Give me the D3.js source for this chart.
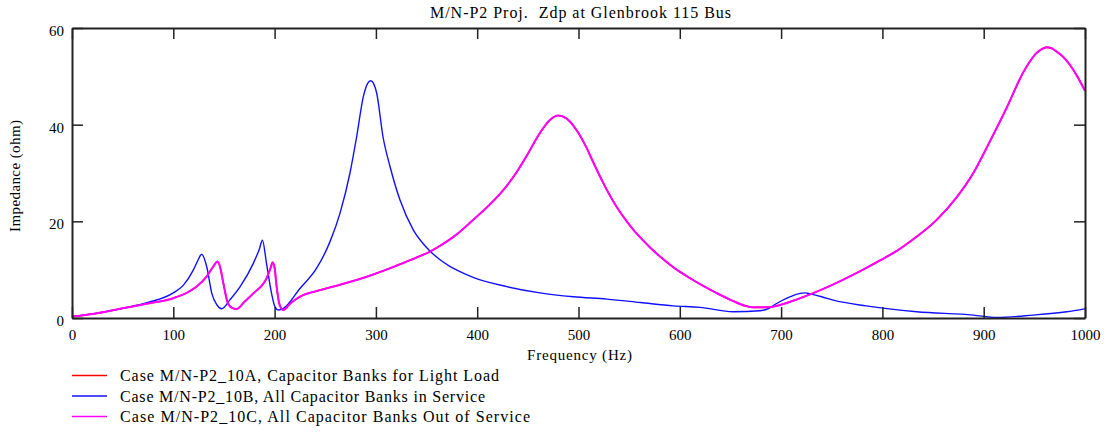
<!DOCTYPE html>
<html>
<head>
<meta charset="utf-8">
<script src="https://cdn.jsdelivr.net/npm/d3@7"></script>
<style>
  html, body { margin: 0; padding: 0; background: #fff; }
  svg { display: block; font-family: "Liberation Serif", "Times New Roman", serif; }
</style>
</head>
<body>
<svg id="chart" width="1109" height="434"></svg>
<script>
const titleText = "M/N-P2 Proj.  Zdp at Glenbrook 115 Bus";
const xLabel = "Frequency (Hz)";
const yLabel = "Impedance (ohm)";
const xTicks = [0, 100, 200, 300, 400, 500, 600, 700, 800, 900, 1000];
const yTicks = [0, 20, 40, 60];
const seriesNames = [
  "Case M/N-P2_10A, Capacitor Banks for Light Load",
  "Case M/N-P2_10B, All Capacitor Banks in Service",
  "Case M/N-P2_10C, All Capacitor Banks Out of Service"
];
const seriesColors = ["#ff0000", "#1010ff", "#ff00ff"];

// Case 10B (blue)
const freqB = [0, 25, 50, 75, 100, 110, 119.7, 124, 128, 133, 138, 143, 147.8, 156, 166, 179, 185, 188, 192, 197, 200.4, 203.7, 208.6, 225, 241.5, 254.7, 264.6, 274.4, 281, 287.6, 292, 294.9, 297.5, 300.8, 307, 314, 323.8, 337, 350, 363, 373, 380, 396, 429, 462, 495, 528, 561, 593.6, 620, 652.8, 679, 688, 695.6, 708, 718.7, 724, 728.5, 740, 751.5, 784, 833.8, 889.7, 912.8, 948.7, 981.9, 1000];
const zB =    [0.3, 1.0, 2.0, 3.2, 5.2, 6.8, 9.9, 11.8, 13.2, 10.6, 5.1, 2.7, 1.9, 3.8, 6.5, 11.3, 14.3, 16.1, 11.3, 5.1, 2.3, 1.65, 2.0, 6.1, 10.3, 15.8, 21.7, 30.0, 37.5, 45.8, 48.6, 49.1, 48.6, 46.5, 37.5, 31.3, 24.4, 18.2, 14.6, 12.1, 10.7, 9.9, 8.4, 6.5, 5.2, 4.4, 3.9, 3.2, 2.5, 2.2, 1.3, 1.5, 2.0, 3.0, 4.3, 5.1, 5.2, 5.0, 4.4, 3.7, 2.5, 1.3, 0.6, 0.1, 0.6, 1.3, 1.9];

// Case 10C (magenta)
const freqC = [0, 25, 50, 75, 100, 115, 123, 133, 139, 143.8, 146.5, 149.4, 154, 158, 162.5, 170, 179, 192, 196, 198, 200, 202, 205, 208.6, 215, 225, 240, 258, 280, 297.4, 320, 340, 353, 363, 379.8, 396, 412.6, 429, 439, 449, 462, 472, 480, 488, 498, 508, 514.6, 524.5, 537.6, 547.6, 554, 564, 570.6, 580.5, 593.6, 605, 620, 636, 652.7, 665, 672.6, 685.8, 699, 715, 730, 750, 765, 780, 797.6, 815, 830.5, 853.6, 873.4, 889.8, 906, 922.7, 939, 946, 952, 957, 962, 967, 972, 978.6, 985, 991.8, 1000];
const zC =    [0.3, 1.0, 2.0, 3.0, 4.1, 5.4, 6.5, 8.6, 10.5, 11.7, 10.3, 7.2, 3.0, 2.1, 1.86, 3.3, 5.1, 8.2, 10.3, 11.5, 10.4, 6.5, 2.7, 1.65, 2.9, 4.4, 5.5, 6.5, 7.8, 9.0, 10.8, 12.5, 13.7, 14.9, 17.3, 20.3, 23.5, 27.3, 30.2, 33.6, 38.3, 41.0, 41.9, 41.3, 38.9, 35.2, 32.2, 27.9, 23.0, 20.0, 18.3, 16.0, 14.6, 12.7, 10.5, 8.9, 7.0, 5.2, 3.5, 2.5, 2.2, 2.2, 2.7, 3.8, 5.0, 6.8, 8.3, 9.9, 11.9, 14.0, 16.3, 20.3, 25.0, 30.0, 36.5, 43.5, 50.8, 53.2, 54.8, 55.6, 56.0, 55.8, 55.1, 54.0, 52.4, 50.2, 47.0];

// Case 10A (red) - coincides with 10C, drawn underneath
const freqA = freqC.slice();
const zA = zC.slice();

const svg = d3.select("#chart");
const x = d3.scaleLinear().domain([0, 1000]).range([72, 1085]);
const y = d3.scaleLinear().domain([0, 60]).range([318, 28]);
const frameColor = "#222";
const serif = "Liberation Serif, Times New Roman, serif";

// title
svg.append("text")
  .attr("x", 580.5).attr("y", 18)
  .attr("text-anchor", "middle")
  .attr("font-size", 16)
  .attr("textLength", 301).attr("lengthAdjust", "spacing")
  .attr("xml:space", "preserve")
  .style("white-space", "pre")
  .text(titleText);

// series
const line = d3.line().x(d => x(d[0])).y(d => y(d[1])).curve(d3.curveMonotoneX);
const seriesData = [
  { f: freqA, z: zA, color: seriesColors[0], w: 1.6 },
  { f: freqB, z: zB, color: seriesColors[1], w: 1.4 },
  { f: freqC, z: zC, color: seriesColors[2], w: 2.0 }
];
svg.append("clipPath").attr("id", "clip")
  .append("rect").attr("x", 72).attr("y", 28).attr("width", 1013).attr("height", 290);
const plot = svg.append("g").attr("clip-path", "url(#clip)");
seriesData.forEach(s => {
  plot.append("path")
    .datum(s.f.map((f, i) => [f, s.z[i]]))
    .attr("fill", "none")
    .attr("stroke", s.color)
    .attr("stroke-width", s.w)
    .attr("stroke-linejoin", "round")
    .attr("d", line);
});

// axes
const axBottom = svg.append("g").attr("transform", "translate(0,318)")
  .call(d3.axisBottom(x).tickValues(xTicks).tickSizeInner(-11).tickSizeOuter(0).tickFormat(d3.format("d")));
const axTop = svg.append("g").attr("transform", "translate(0,28)")
  .call(d3.axisTop(x).tickValues(xTicks).tickSizeInner(-11).tickSizeOuter(0).tickFormat(""));
const axLeft = svg.append("g").attr("transform", "translate(72,0)")
  .call(d3.axisLeft(y).tickValues(yTicks).tickSizeInner(-11).tickSizeOuter(0).tickFormat(d3.format("d")));
const axRight = svg.append("g").attr("transform", "translate(1085,0)")
  .call(d3.axisRight(y).tickValues(yTicks).tickSizeInner(-11).tickSizeOuter(0).tickFormat(""));

[axBottom, axTop, axLeft, axRight].forEach(g => {
  g.attr("font-family", serif).attr("font-size", 15);
  g.select(".domain").attr("stroke", frameColor).attr("stroke-width", 2);
  g.selectAll(".tick line").attr("stroke", frameColor).attr("stroke-width", 1.5);
  g.selectAll("text").attr("fill", "#000");
});
axBottom.selectAll(".tick text").attr("y", 22).attr("dy", 0);
axLeft.selectAll(".tick text").attr("x", -8).attr("dy", "0.5em");

// axis labels
svg.append("text")
  .attr("x", 579.5).attr("y", 360)
  .attr("text-anchor", "middle").attr("font-size", 15)
  .attr("textLength", 105).attr("lengthAdjust", "spacing")
  .text(xLabel);
svg.append("text")
  .attr("transform", "translate(20,176) rotate(-90)")
  .attr("text-anchor", "middle").attr("font-size", 15)
  .attr("textLength", 112).attr("lengthAdjust", "spacing")
  .text(yLabel);

// legend
const legendWidths = [379, 365, 410];
const legend = svg.append("g");
seriesNames.forEach((name, i) => {
  const yy = 375.5 + i * 20.5;
  legend.append("line")
    .attr("x1", 72).attr("x2", 107).attr("y1", yy).attr("y2", yy)
    .attr("stroke", seriesColors[i]).attr("stroke-width", 1.5);
  legend.append("text")
    .attr("x", 120).attr("y", yy + 5.5)
    .attr("font-size", 16)
    .attr("textLength", legendWidths[i]).attr("lengthAdjust", "spacing")
    .text(name);
});
</script>
</body>
</html>
